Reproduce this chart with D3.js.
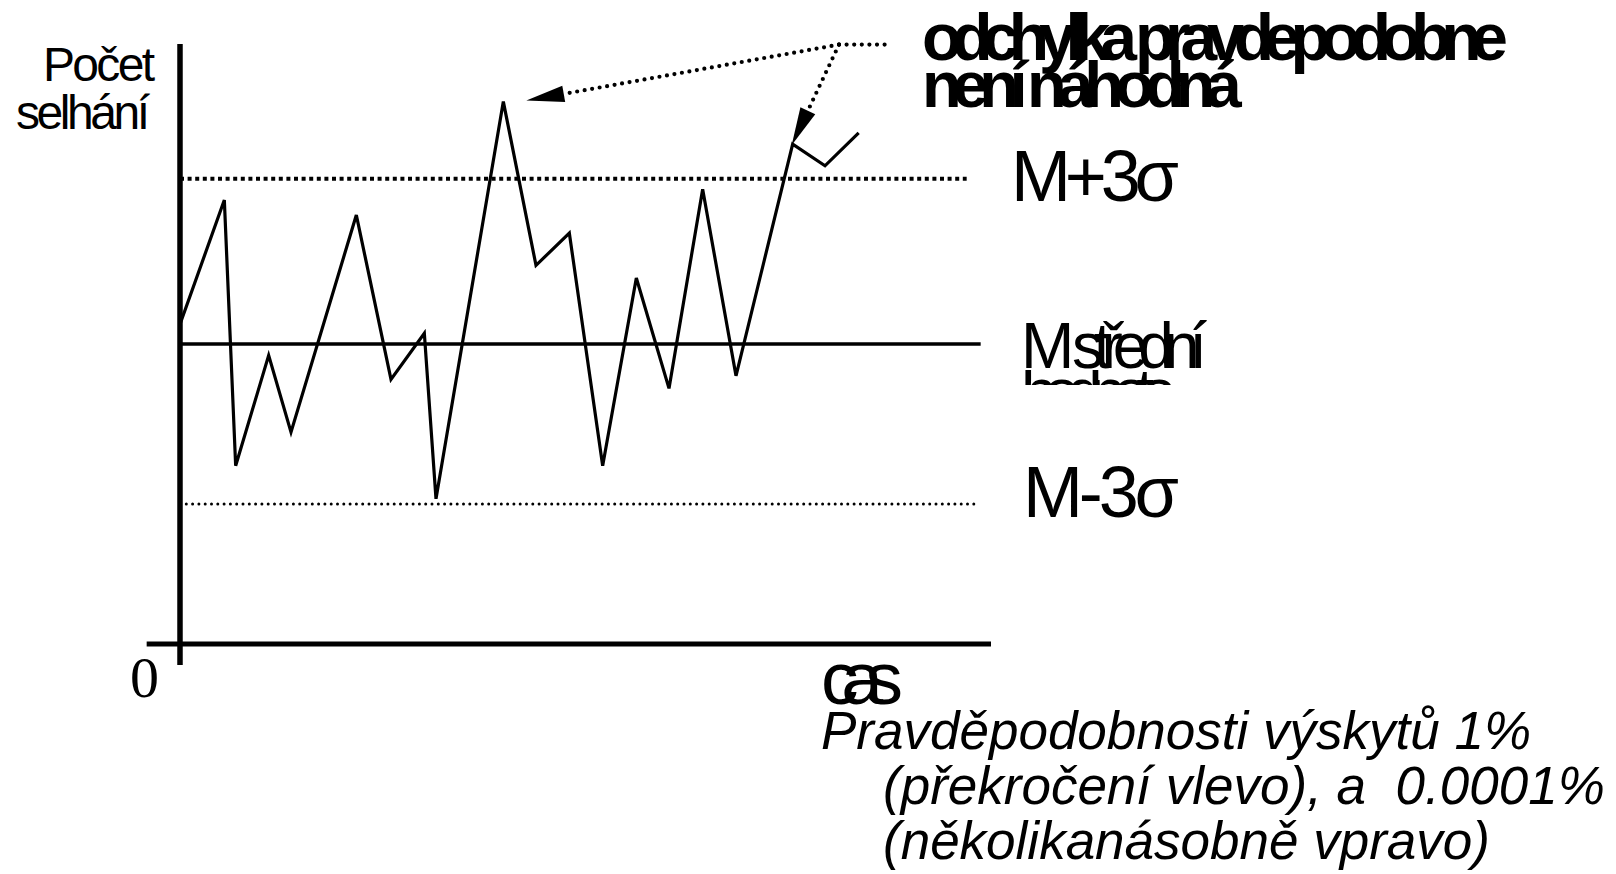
<!DOCTYPE html>
<html>
<head>
<meta charset="utf-8">
<script src="https://cdn.jsdelivr.net/npm/d3@7"></script>
<style>
  html, body { margin: 0; padding: 0; background: #fff; }
  svg { display: block; }
  text { font-family: "Liberation Sans", Arial, sans-serif; fill: #000; white-space: pre; }
</style>
</head>
<body>
<svg id="chart" width="1616" height="874"></svg>
<script>
// Time of each observation and the failure count observed at that time
const times    = [0, 1.33, 1.67, 2.66, 3.33, 5.29, 6.33, 7.33, 7.68, 9.7, 10.68, 11.68, 12.68, 13.69, 14.67, 15.68, 16.68, 18.38, 19.35, 20.36];
const failures = [53.3, 74, 29.7, 48.1, 35.3, 71.5, 44.1, 51.8, 24.2, 90.4, 63.1, 68.5, 29.7, 61, 42.6, 75.8, 44.7, 83.3, 79.7, 85.2];

// Control limits: mean, mean + 3 sigma, mean - 3 sigma
const limitNames  = ["upper", "mean", "lower"];
const limitValues = [77.55, 50, 23.33];

// Observations singled out by the annotation
const flaggedIndex = [9, 17];

// Texts
const yTitle      = ["Počet", "selhání"];
const xTitle      = "cas";
const originLabel = "0";
const noteLines   = ["odchylka pravdepodobne", "není náhodná"];
const limitLabels = ["M+3σ", "M střední", "M-3σ"];
const meanLabel2  = "hodnota";
const footLines   = ["Pravděpodobnosti výskytů 1%", "(překročení vlevo), a  0.0001%", "(několikanásobně vpravo)"];

const svg = d3.select("#chart");

const x = d3.scaleLinear().domain([0, 24]).range([180, 980]);
const y = d3.scaleLinear().domain([0, 100]).range([644, 44]);

// Control limit lines
const limitStyle = {
  upper: { width: 4,   dash: "4,3.6",  cap: "butt",  x1: 23.6 },
  mean:  { width: 3.4, dash: null,     cap: "butt",  x1: 24.02 },
  lower: { width: 3,   dash: "0,6.3",  cap: "round", x1: 23.9 }
};
limitNames.forEach((n, i) => {
  const s = limitStyle[n];
  svg.append("line")
    .attr("x1", x(0)).attr("x2", x(s.x1))
    .attr("y1", y(limitValues[i])).attr("y2", y(limitValues[i]))
    .attr("stroke", "#000").attr("stroke-width", s.width)
    .attr("stroke-linecap", s.cap)
    .attr("stroke-dasharray", s.dash);
});

// Failure count over time
const line = d3.line().x((d, i) => x(times[i])).y(d => y(d));
svg.append("path")
  .datum(failures)
  .attr("d", line)
  .attr("fill", "none")
  .attr("stroke", "#000")
  .attr("stroke-width", 3.2)
  .attr("stroke-linejoin", "miter");

// Axes
svg.append("line")
  .attr("x1", x(0)).attr("x2", x(0))
  .attr("y1", y(100)).attr("y2", y(-3.5))
  .attr("stroke", "#000").attr("stroke-width", 5.5);
svg.append("line")
  .attr("x1", x(-1)).attr("x2", x(24.33))
  .attr("y1", y(0)).attr("y2", y(0))
  .attr("stroke", "#000").attr("stroke-width", 5);

// Annotation: dotted leaders from a common corner to the flagged points
const corner = [x(19.77), y(99.9)];
const leaderWidth = 4.2, leaderDash = "0,7.6";
svg.append("line")
  .attr("x1", corner[0]).attr("x2", x(21.36))
  .attr("y1", corner[1]).attr("y2", corner[1])
  .attr("stroke", "#000").attr("stroke-width", leaderWidth)
  .attr("stroke-linecap", "round").attr("stroke-dasharray", leaderDash);

const tipOffset = [[23, -1], [-1, 1]];
flaggedIndex.forEach((idx, k) => {
  const tip = [x(times[idx]) + tipOffset[k][0], y(failures[idx]) + tipOffset[k][1]];
  const dx = tip[0] - corner[0], dy = tip[1] - corner[1];
  const len = Math.hypot(dx, dy);
  const ux = dx / len, uy = dy / len;
  const headLen = 38, halfW = 8.2;
  const base = [tip[0] - ux * headLen, tip[1] - uy * headLen];
  svg.append("line")
    .attr("x1", corner[0]).attr("y1", corner[1])
    .attr("x2", base[0] - ux * 4).attr("y2", base[1] - uy * 4)
    .attr("stroke", "#000").attr("stroke-width", leaderWidth)
    .attr("stroke-linecap", "round").attr("stroke-dasharray", leaderDash);
  svg.append("polygon")
    .attr("points", [
      tip,
      [base[0] - uy * halfW, base[1] + ux * halfW],
      [base[0] + uy * halfW, base[1] - ux * halfW]
    ].map(p => p.join(",")).join(" "))
    .attr("fill", "#000");
});

// Condensed text helper
function label(str, px, py, size, opts = {}) {
  const t = svg.append("text")
    .attr("x", px).attr("y", py)
    .attr("font-size", size)
    .text(str);
  if (opts.len) t.attr("textLength", opts.len).attr("lengthAdjust", "spacing");
  if (opts.weight) t.attr("font-weight", opts.weight);
  if (opts.style) t.attr("font-style", opts.style);
  if (opts.family) t.style("font-family", opts.family);
  if (opts.clip) t.attr("clip-path", opts.clip);
  return t;
}

// Axis titles
label(yTitle[0], 43, 81, 48, { len: 112 });
label(yTitle[1], 16, 129, 48, { len: 134 });
label(xTitle, 821, 704, 75, { len: 82 });
label(originLabel, 130, 697, 58, { family: "'Liberation Serif', 'Times New Roman', serif" });

// Annotation text
label(noteLines[0], 922, 60, 66, { weight: "bold", len: 586 });
label(noteLines[1], 922, 107, 65, { weight: "bold", len: 320 });

// Limit labels
const limitLabelPos = [[1011, 201, 72, 168], [1021, 368, 64, 186], [1023, 517, 72, 156]];
limitLabels.forEach((s, i) => {
  const p = limitLabelPos[i];
  label(s, p[0], p[1], p[2], { len: p[3] });
});
svg.append("clipPath").attr("id", "meanClip")
  .append("rect").attr("x", 1000).attr("y", 370).attr("width", 260).attr("height", 15);
label(meanLabel2, 1021, 414, 64, { len: 156, clip: "url(#meanClip)" });

// Footnote
const footPos = [[821, 749], [883, 804], [883, 859]];
footLines.forEach((s, i) => {
  label(s, footPos[i][0], footPos[i][1], 53, { style: "italic" });
});
</script>
</body>
</html>
